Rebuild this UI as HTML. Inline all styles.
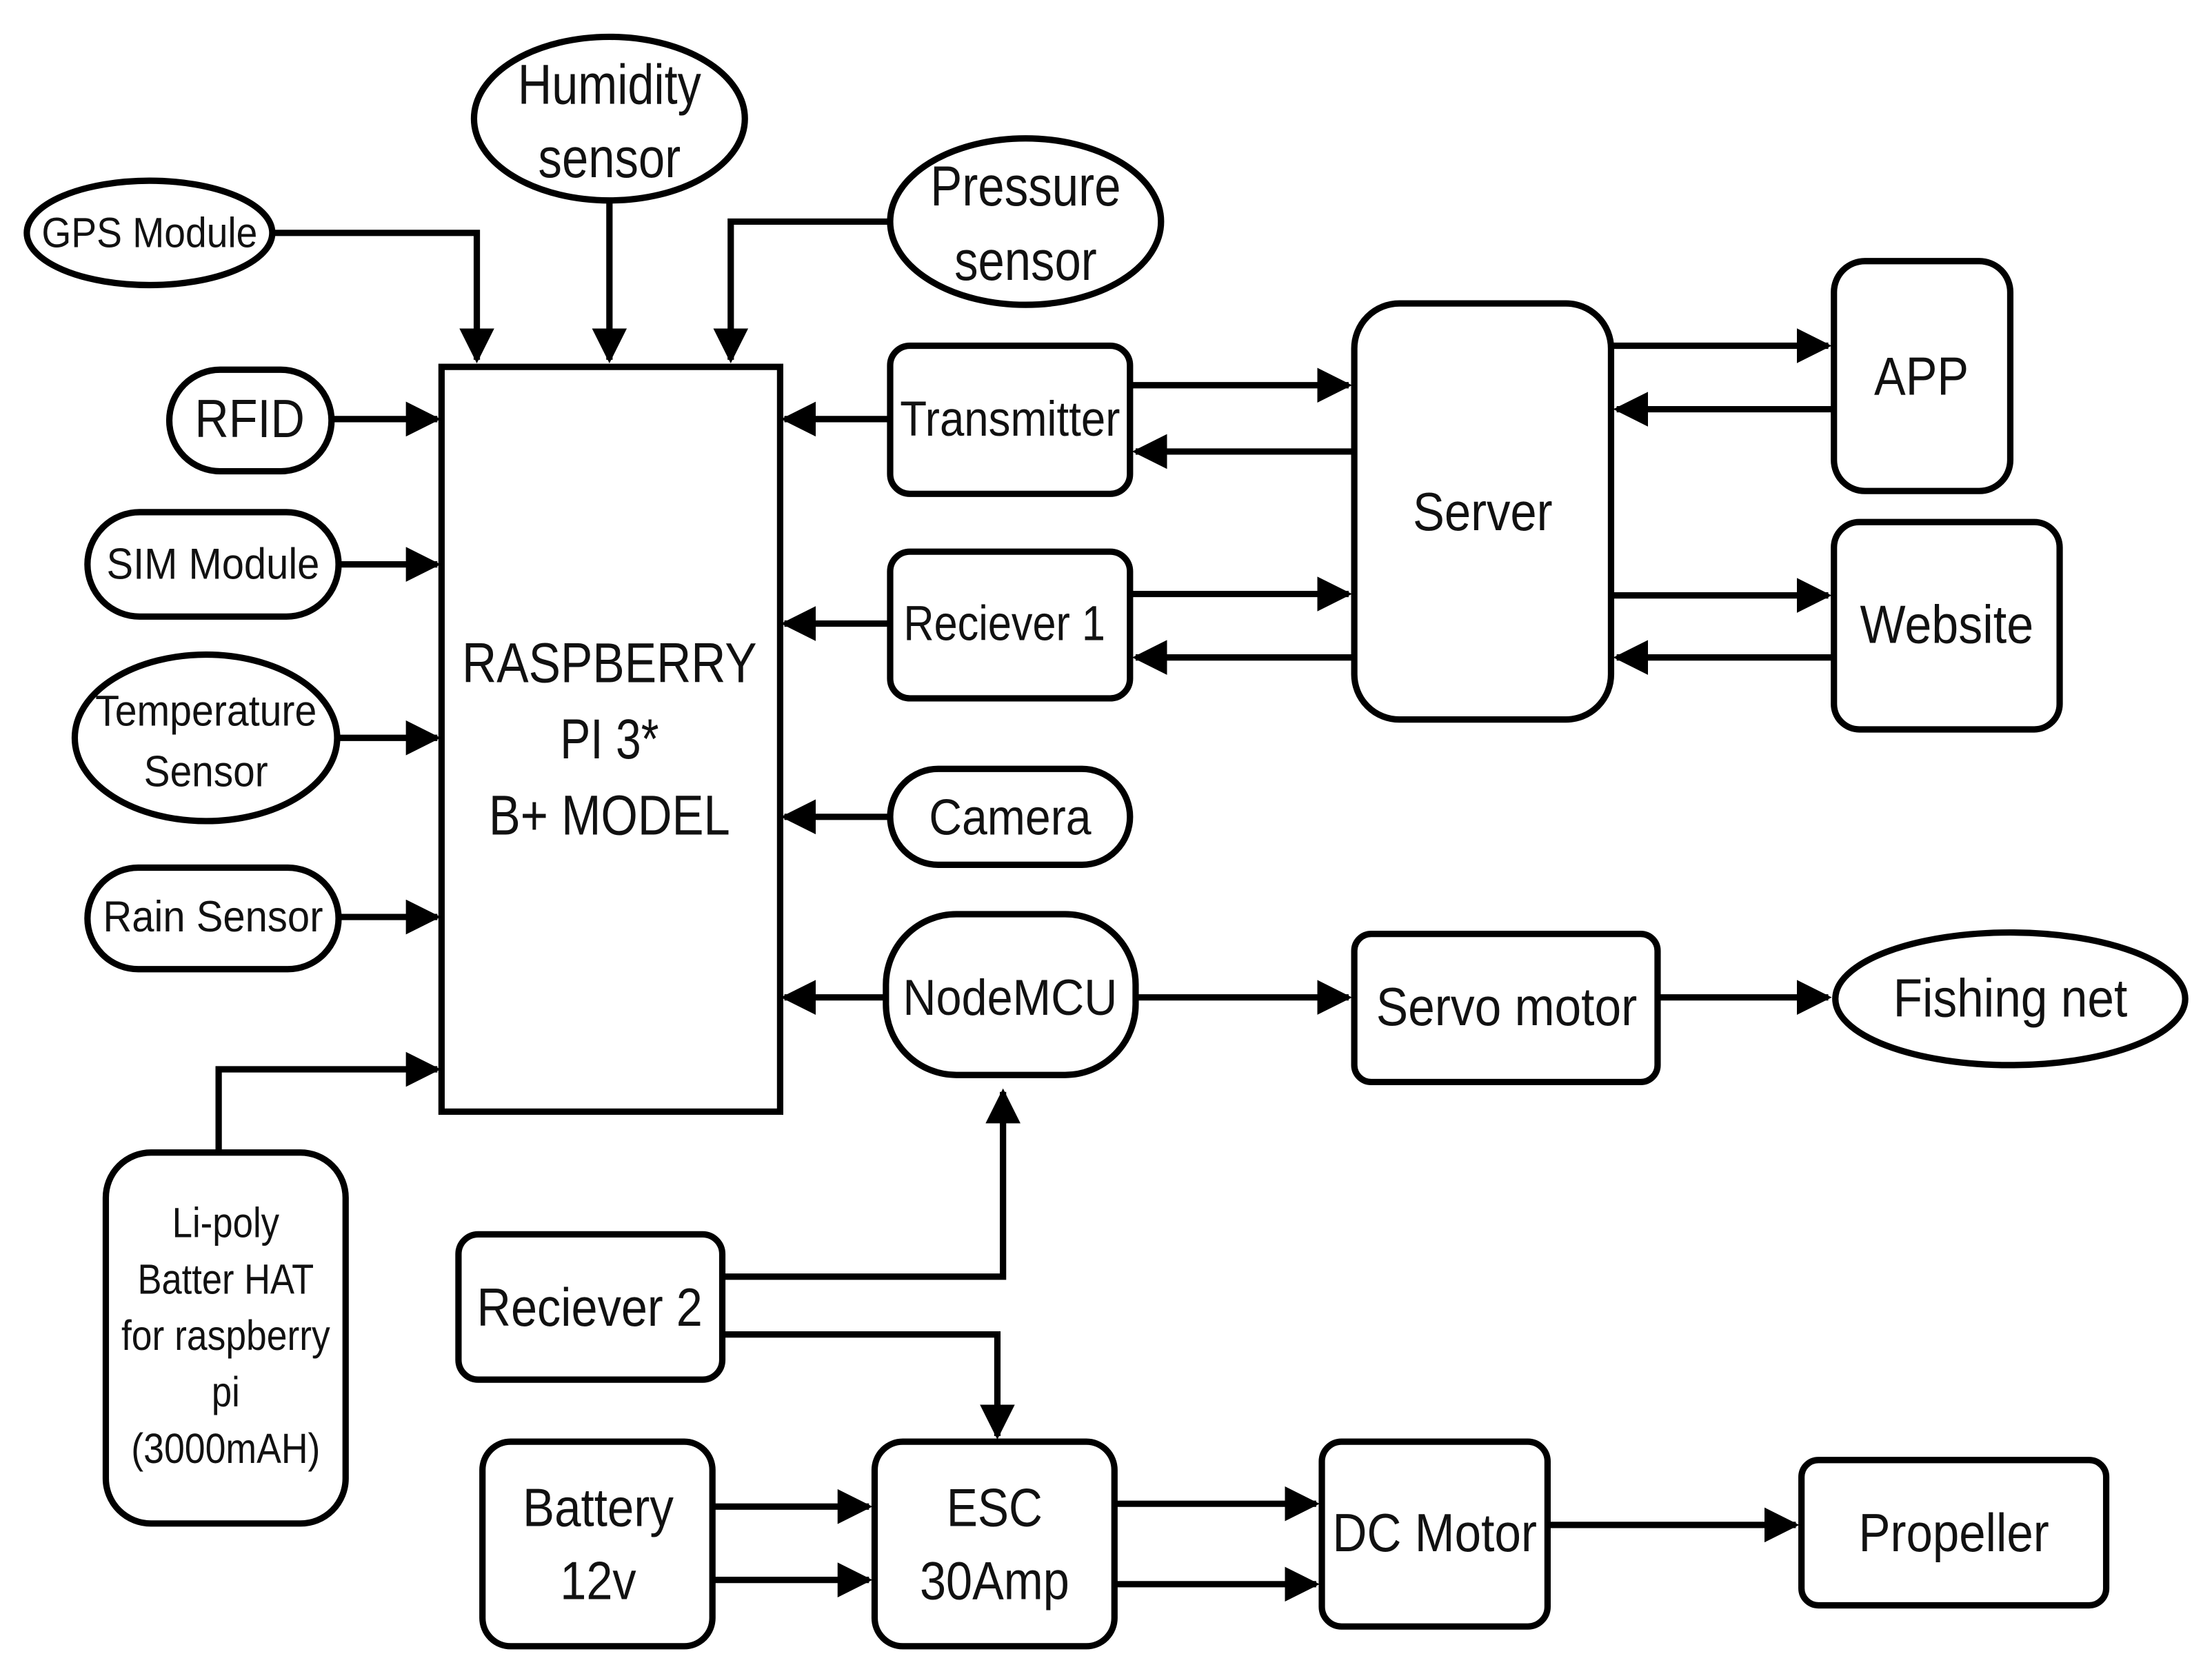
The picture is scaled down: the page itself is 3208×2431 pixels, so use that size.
<!DOCTYPE html>
<html><head><meta charset="utf-8"><style>
html,body{margin:0;padding:0;background:#fff;}
svg{display:block;}
text{font-family:"Liberation Sans Narrow","Liberation Sans",sans-serif;fill:#111;text-anchor:middle;dominant-baseline:central;}
</style></head><body>
<svg width="3208" height="2431" viewBox="0 0 1568 1188" xmlns="http://www.w3.org/2000/svg">
<defs>
<marker id="a" viewBox="0 0 10 10" refX="9" refY="5" markerWidth="5.5" markerHeight="5.5" orient="auto" markerUnits="strokeWidth">
<path d="M0,0 L10,5 L0,10 z" fill="#000"/></marker>
</defs>
<rect width="1568" height="1188" fill="#fff"/>
<g fill="none" stroke="#000" stroke-width="4.5">
<!-- shapes -->
<ellipse cx="432" cy="84" rx="96" ry="58"/>
<ellipse cx="106" cy="165" rx="87" ry="37"/>
<ellipse cx="727" cy="157" rx="96" ry="59"/>
<rect x="313" y="260" width="240" height="528"/>
<rect x="120" y="262" width="115" height="72" rx="36"/>
<rect x="62" y="363" width="178" height="74" rx="37"/>
<ellipse cx="146" cy="523" rx="93" ry="59"/>
<rect x="62" y="615" width="178" height="72" rx="36"/>
<rect x="75" y="817" width="170" height="263" rx="32"/>
<rect x="631" y="245" width="170" height="105" rx="14"/>
<rect x="631" y="391" width="170" height="104" rx="14"/>
<rect x="960" y="215" width="182" height="295" rx="32"/>
<rect x="1300" y="185" width="125" height="163" rx="22"/>
<rect x="1300" y="370" width="160" height="147" rx="18"/>
<rect x="631" y="545" width="170" height="68" rx="34"/>
<rect x="628" y="648" width="177" height="114" rx="50"/>
<rect x="960" y="662" width="215" height="105" rx="12"/>
<ellipse cx="1425" cy="708" rx="124" ry="47"/>
<rect x="325" y="875" width="187" height="103" rx="14"/>
<rect x="342" y="1022" width="163" height="145" rx="20"/>
<rect x="620" y="1022" width="170" height="145" rx="20"/>
<rect x="937" y="1022" width="160" height="131" rx="14"/>
<rect x="1277" y="1035" width="216" height="103" rx="12"/>
<!-- connectors -->
<path d="M432,143 V255" marker-end="url(#a)"/>
<path d="M195,165 H338 V255" marker-end="url(#a)"/>
<path d="M631,157 H518 V255" marker-end="url(#a)"/>
<path d="M235,297 H310" marker-end="url(#a)"/>
<path d="M240,400 H310" marker-end="url(#a)"/>
<path d="M240,523 H310" marker-end="url(#a)"/>
<path d="M240,650 H310" marker-end="url(#a)"/>
<path d="M155,817 V758 H310" marker-end="url(#a)"/>
<path d="M631,297 H556" marker-end="url(#a)"/>
<path d="M631,442 H556" marker-end="url(#a)"/>
<path d="M631,579 H556" marker-end="url(#a)"/>
<path d="M628,707 H556" marker-end="url(#a)"/>
<path d="M801,273 H956" marker-end="url(#a)"/>
<path d="M960,320 H805" marker-end="url(#a)"/>
<path d="M801,421 H956" marker-end="url(#a)"/>
<path d="M960,466 H805" marker-end="url(#a)"/>
<path d="M1142,245 H1296" marker-end="url(#a)"/>
<path d="M1300,290 H1146" marker-end="url(#a)"/>
<path d="M1142,422 H1296" marker-end="url(#a)"/>
<path d="M1300,466 H1146" marker-end="url(#a)"/>
<path d="M805,707 H956" marker-end="url(#a)"/>
<path d="M1175,707 H1296" marker-end="url(#a)"/>
<path d="M512,905 H711 V774" marker-end="url(#a)"/>
<path d="M512,946 H707 V1018" marker-end="url(#a)"/>
<path d="M505,1068 H616" marker-end="url(#a)"/>
<path d="M505,1120 H616" marker-end="url(#a)"/>
<path d="M790,1066 H933" marker-end="url(#a)"/>
<path d="M790,1123 H933" marker-end="url(#a)"/>
<path d="M1097,1081 H1273" marker-end="url(#a)"/>
</g>
<g>
<text x="432" y="60" font-size="40" textLength="130" lengthAdjust="spacingAndGlyphs">Humidity</text>
<text x="432" y="112" font-size="40" textLength="101" lengthAdjust="spacingAndGlyphs">sensor</text>
<text x="106" y="165" font-size="30" textLength="153" lengthAdjust="spacingAndGlyphs">GPS Module</text>
<text x="727" y="132" font-size="40" textLength="135" lengthAdjust="spacingAndGlyphs">Pressure</text>
<text x="727" y="185" font-size="40" textLength="101" lengthAdjust="spacingAndGlyphs">sensor</text>
<text x="432" y="470" font-size="40" textLength="209" lengthAdjust="spacingAndGlyphs">RASPBERRY</text>
<text x="432" y="524" font-size="40" textLength="70" lengthAdjust="spacingAndGlyphs">PI 3*</text>
<text x="432" y="578" font-size="40" textLength="171" lengthAdjust="spacingAndGlyphs">B+ MODEL</text>
<text x="177" y="297" font-size="38" textLength="78" lengthAdjust="spacingAndGlyphs">RFID</text>
<text x="151" y="400" font-size="31" textLength="151" lengthAdjust="spacingAndGlyphs">SIM Module</text>
<text x="146" y="504" font-size="31" textLength="157" lengthAdjust="spacingAndGlyphs">Temperature</text>
<text x="146" y="547" font-size="31" textLength="88" lengthAdjust="spacingAndGlyphs">Sensor</text>
<text x="151" y="650" font-size="31" textLength="156" lengthAdjust="spacingAndGlyphs">Rain Sensor</text>
<text x="160" y="867" font-size="30" textLength="76" lengthAdjust="spacingAndGlyphs">Li-poly</text>
<text x="160" y="907" font-size="30" textLength="125" lengthAdjust="spacingAndGlyphs">Batter HAT</text>
<text x="160" y="947" font-size="30" textLength="148" lengthAdjust="spacingAndGlyphs">for raspberry</text>
<text x="160" y="987" font-size="30" textLength="20" lengthAdjust="spacingAndGlyphs">pi</text>
<text x="160" y="1027" font-size="30" textLength="134" lengthAdjust="spacingAndGlyphs">(3000mAH)</text>
<text x="716" y="297" font-size="35" textLength="156" lengthAdjust="spacingAndGlyphs">Transmitter</text>
<text x="712" y="442" font-size="35" textLength="143" lengthAdjust="spacingAndGlyphs">Reciever 1</text>
<text x="1051" y="363" font-size="38" textLength="99" lengthAdjust="spacingAndGlyphs">Server</text>
<text x="1362" y="267" font-size="38" textLength="67" lengthAdjust="spacingAndGlyphs">APP</text>
<text x="1380" y="443" font-size="38" textLength="123" lengthAdjust="spacingAndGlyphs">Website</text>
<text x="716" y="579" font-size="36" textLength="115" lengthAdjust="spacingAndGlyphs">Camera</text>
<text x="716" y="707" font-size="36" textLength="152" lengthAdjust="spacingAndGlyphs">NodeMCU</text>
<text x="1068" y="714" font-size="38" textLength="185" lengthAdjust="spacingAndGlyphs">Servo motor</text>
<text x="1425" y="708" font-size="38" textLength="166" lengthAdjust="spacingAndGlyphs">Fishing net</text>
<text x="418" y="927" font-size="38" textLength="160" lengthAdjust="spacingAndGlyphs">Reciever 2</text>
<text x="424" y="1069" font-size="38" textLength="107" lengthAdjust="spacingAndGlyphs">Battery</text>
<text x="424" y="1121" font-size="38" textLength="54" lengthAdjust="spacingAndGlyphs">12v</text>
<text x="705" y="1069" font-size="38" textLength="68" lengthAdjust="spacingAndGlyphs">ESC</text>
<text x="705" y="1121" font-size="38" textLength="106" lengthAdjust="spacingAndGlyphs">30Amp</text>
<text x="1017" y="1087" font-size="38" textLength="145" lengthAdjust="spacingAndGlyphs">DC Motor</text>
<text x="1385" y="1087" font-size="38" textLength="135" lengthAdjust="spacingAndGlyphs">Propeller</text>
</g>
</svg>
</body></html>
